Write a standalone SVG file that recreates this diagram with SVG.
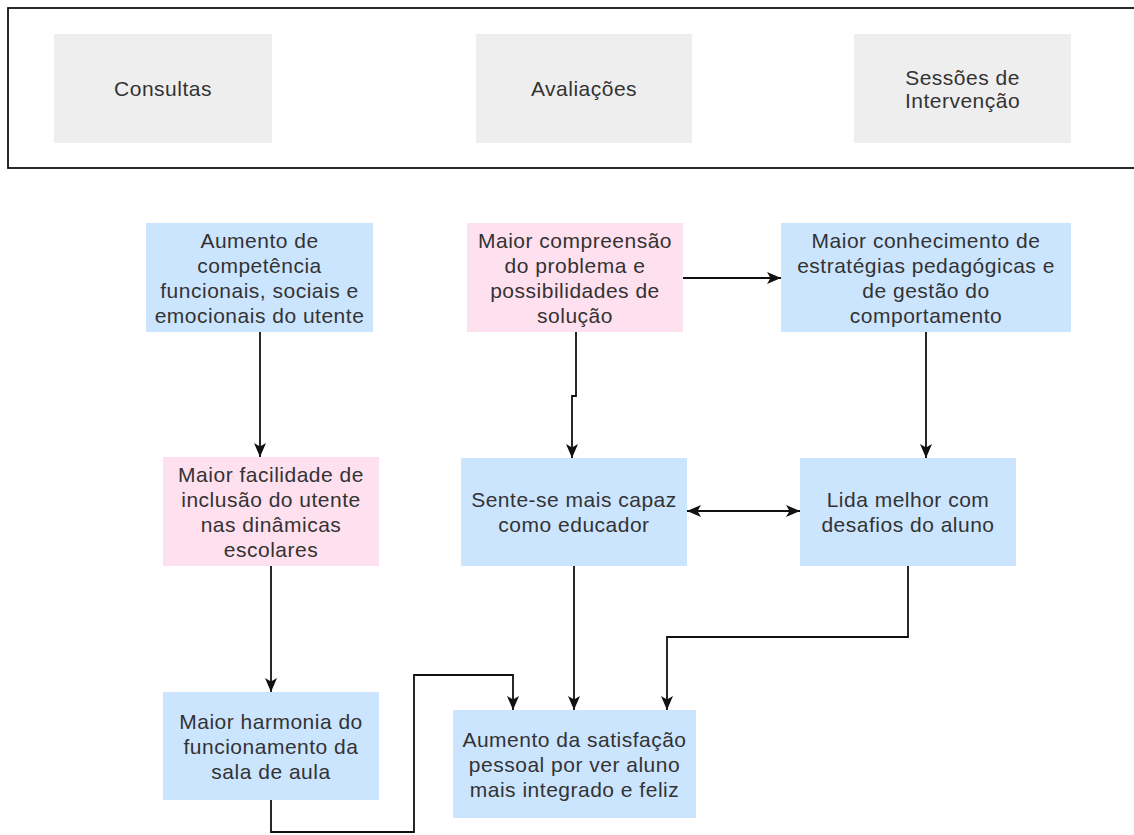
<svg xmlns="http://www.w3.org/2000/svg" width="1134" height="835" viewBox="0 0 1134 835">
<style>
text{font-family:"Liberation Sans",Arial,sans-serif;font-size:21px;fill:#333;text-anchor:middle;dominant-baseline:central;letter-spacing:0.5px}
.gray{fill:#eeeeee}
.blue{fill:#cce5ff}
.pink{fill:#ffe0ef}
.c{fill:none;stroke:#111;stroke-width:1.8}
</style>
<defs>
<marker id="arr" viewBox="0 0 14 14" refX="14" refY="7" markerWidth="14" markerHeight="14" orient="auto-start-reverse" markerUnits="userSpaceOnUse">
<path d="M0,1 L14,7 L0,13 L3.5,7 z" fill="#111"/>
</marker>
</defs>
<g id="container">
<rect x="8" y="8" width="1140" height="160" fill="#fff" stroke="#111" stroke-width="1.8"/>
</g>
<g id="consultas"><rect class="gray" x="54" y="34" width="218" height="109"/><text x="163" y="88.5">Consultas</text></g>
<g id="avaliacoes"><rect class="gray" x="476" y="34" width="216" height="109"/><text x="584" y="88.5">Avaliações</text></g>
<g id="sessoes"><rect class="gray" x="854" y="34" width="217" height="109"/><text x="962.5" y="77">Sessões de</text><text x="962.5" y="100.5">Intervenção</text></g>

<g id="nA"><rect class="blue" x="146" y="223" width="227" height="109"/>
<text x="259.5" y="240">Aumento de</text><text x="259.5" y="265">competência</text><text x="259.5" y="290">funcionais, sociais e</text><text x="259.5" y="315">emocionais do utente</text></g>
<g id="nB"><rect class="pink" x="467" y="223" width="216" height="109"/>
<text x="575" y="240">Maior compreensão</text><text x="575" y="265">do problema e</text><text x="575" y="290">possibilidades de</text><text x="575" y="315">solução</text></g>
<g id="nC"><rect class="blue" x="781" y="223" width="290" height="109"/>
<text x="926" y="240">Maior conhecimento de</text><text x="926" y="265">estratégias pedagógicas e</text><text x="926" y="290">de gestão do</text><text x="926" y="315">comportamento</text></g>
<g id="nD"><rect class="pink" x="163" y="457" width="216" height="109"/>
<text x="271" y="474">Maior facilidade de</text><text x="271" y="499">inclusão do utente</text><text x="271" y="524">nas dinâmicas</text><text x="271" y="549">escolares</text></g>
<g id="nE"><rect class="blue" x="461" y="458" width="226" height="108"/>
<text x="574" y="499">Sente-se mais capaz</text><text x="574" y="524">como educador</text></g>
<g id="nH"><rect class="blue" x="800" y="458" width="216" height="108"/>
<text x="908" y="499">Lida melhor com</text><text x="908" y="524">desafios do aluno</text></g>
<g id="nF"><rect class="blue" x="163" y="692" width="216" height="108"/>
<text x="271" y="721">Maior harmonia do</text><text x="271" y="746">funcionamento da</text><text x="271" y="771">sala de aula</text></g>
<g id="nG"><rect class="blue" x="453" y="710" width="243" height="108"/>
<text x="574.5" y="739">Aumento da satisfação</text><text x="574.5" y="764">pessoal por ver aluno</text><text x="574.5" y="789">mais integrado e feliz</text></g>

<g id="connectors">
<path class="c" d="M260,332 V457" marker-end="url(#arr)"/>
<path class="c" d="M683,278 H781" marker-end="url(#arr)"/>
<path class="c" d="M576,332 V396 H572 V458" marker-end="url(#arr)"/>
<path class="c" d="M926,332 V458" marker-end="url(#arr)"/>
<path class="c" d="M687,511 H800" marker-start="url(#arr)" marker-end="url(#arr)"/>
<path class="c" d="M271,566 V692" marker-end="url(#arr)"/>
<path class="c" d="M574,566 V710" marker-end="url(#arr)"/>
<path class="c" d="M908,566 V637 H667 V710" marker-end="url(#arr)"/>
<path class="c" d="M271,800 V832 H414 V675 H513 V710" marker-end="url(#arr)"/>
</g>
</svg>
